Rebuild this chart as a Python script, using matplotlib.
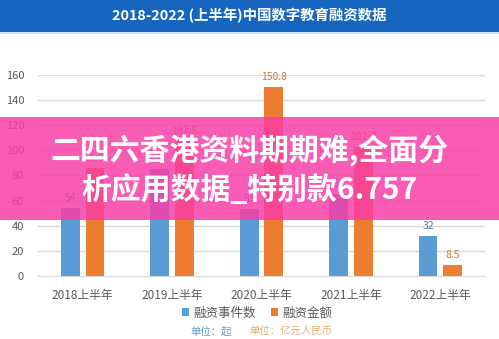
import matplotlib
matplotlib.use("Agg")
import matplotlib.pyplot as plt
import numpy as np
from matplotlib.patches import Rectangle

plt.rcParams['font.family'] = ['Noto Sans CJK SC', 'DejaVu Sans']

categories = ["2018上半年", "2019上半年", "2020上半年", "2021上半年", "2022上半年"]
event_counts = [54, 85, 53, 65, 32]
amounts = [86.3, 107.5, 150.8, 102.3, 8.5]
yticks = [0, 20, 40, 60, 80, 100, 120, 140, 160]

title = "2018-2022 (上半年)中国数字教育融资数据"
series_names = ["融资事件数", "融资金额"]
unit_count = "单位：起"
unit_amount = "单位：亿元人民币"
banner_lines = ["二四六香港资料期期难,全面分", "析应用数据_特别款6.757"]

BLUE = "#5B9BD5"
ORANGE = "#ED7D31"
GRID = "#D9D9D9"
TICK = "#595959"

fig = plt.figure(figsize=(4.99, 3.39), dpi=100)
fig.patch.set_facecolor("white")

# header bar
fig.patches.append(Rectangle((0, 1 - 32 / 339), 1, 32 / 339, transform=fig.transFigure,
                             facecolor="#1666BF", edgecolor="none", zorder=0))
fig.patches.append(Rectangle((0, 1 - 34 / 339), 1, 2 / 339, transform=fig.transFigure,
                             facecolor="#CFE0F3", edgecolor="none", zorder=0))
fig.text(0.5, 1 - 16 / 339, title, color="white", fontsize=10.4, fontweight="bold",
         ha="center", va="center")

ax = fig.add_axes([38 / 499, (339 - 276) / 339, (485 - 38) / 499, (276 - 75) / 339])
x = np.arange(len(categories))
w = 0.21
off = 0.137
b1 = ax.bar(x - off, event_counts, w, color=BLUE, zorder=2)
b2 = ax.bar(x + off, amounts, w, color=ORANGE, zorder=2)

for xi, v in zip(x, event_counts):
    ax.text(xi - off, v + 4, f"{v:g}", ha="center", va="bottom", fontsize=7.5,
            color="#4A7DB0", clip_on=False)
for xi, v in zip(x, amounts):
    ax.text(xi + off, v + 4, f"{v:g}", ha="center", va="bottom", fontsize=7.5,
            color="#C87A3C", clip_on=False)

ax.set_ylim(0, 160)
ax.set_xlim(-0.5, len(categories) - 0.5)
ax.set_yticks(yticks)
ax.set_yticklabels([str(t) for t in yticks], fontsize=8, color=TICK)
ax.set_xticks(x)
ax.set_xticklabels(categories, fontsize=8.5, color=TICK)
ax.tick_params(axis="both", length=0, pad=10)
ax.tick_params(axis="x", pad=9)
ax.yaxis.grid(True, color=GRID, linewidth=1, zorder=0)
for s in ax.spines.values():
    s.set_visible(False)
ax.spines["bottom"].set_visible(True)
ax.spines["bottom"].set_color(GRID)

# legend and units
leg = fig.legend([b1, b2], series_names, loc="center", bbox_to_anchor=(0.515, 1 - 313 / 339),
                 ncol=2, frameon=False, fontsize=9, handlelength=0.6, handleheight=0.6,
                 handletextpad=0.3, columnspacing=1.2, labelcolor=TICK)
fig.text(211 / 499, 1 - 331 / 339, unit_count, color="#5B9BD5", fontsize=7.5, ha="center", va="center")
fig.text(291 / 499, 1 - 331 / 339, unit_amount, color="#E3B070", fontsize=7.5, ha="center", va="center")

# pink banner overlay
fig.patches.append(Rectangle((0, (339 - 220) / 339), 1, 103 / 339, transform=fig.transFigure,
                             facecolor=(0.976, 0.24, 0.655), alpha=0.84, edgecolor="none", zorder=5))
fig.text(0.5, 1 - 150 / 339, banner_lines[0], color="white", fontsize=21.5, fontweight="bold",
         ha="center", va="center", zorder=6)
fig.text(0.5, 1 - 190 / 339, banner_lines[1], color="white", fontsize=21.5, fontweight="bold",
         ha="center", va="center", zorder=6)

fig.savefig("out.png", dpi=100, facecolor="white")
